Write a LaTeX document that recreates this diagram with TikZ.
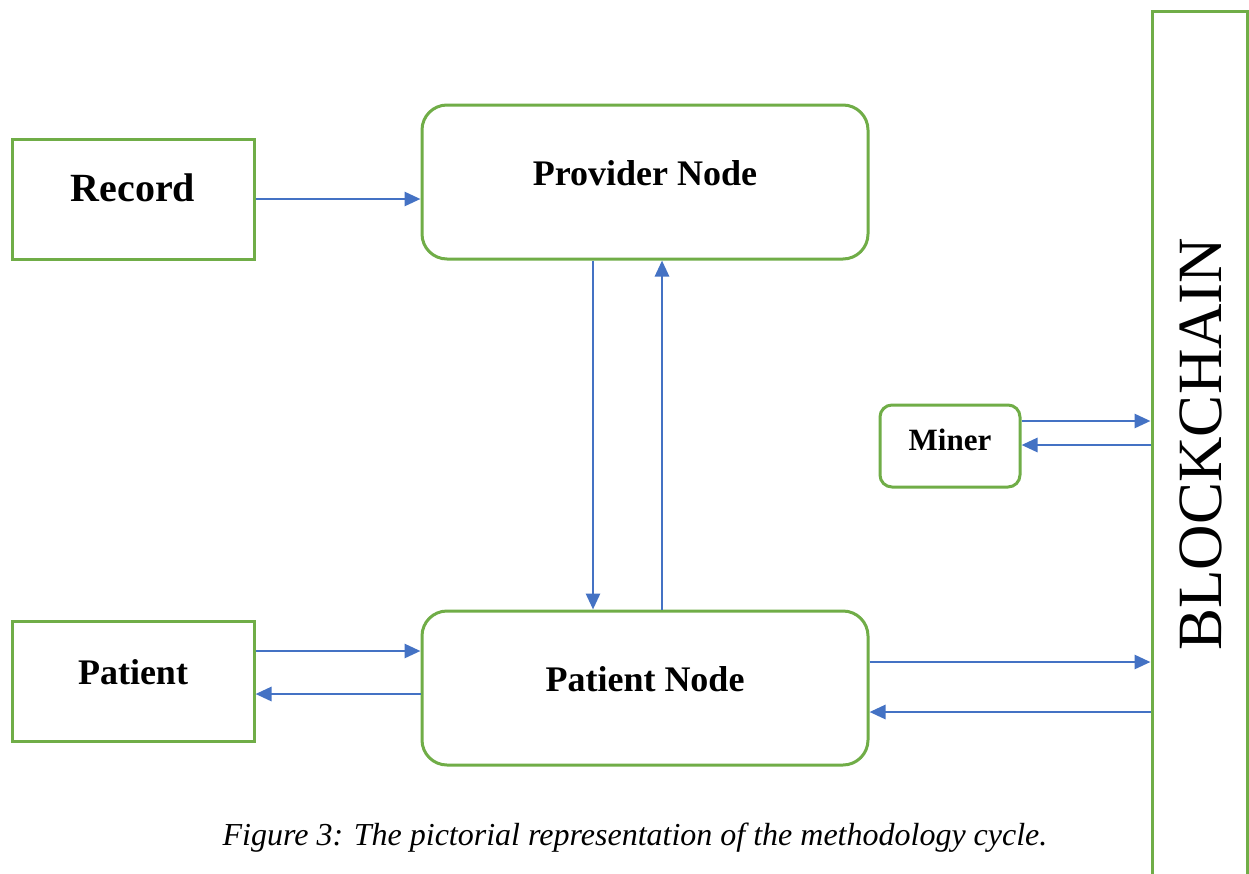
\documentclass[tikz,border=0pt]{standalone}
\usepackage{fontspec}
\setmainfont{Liberation Serif}
\usetikzlibrary{arrows.meta}
\definecolor{gr}{HTML}{70AD47}
\definecolor{bl}{HTML}{4472C4}
\begin{document}
\begin{tikzpicture}[x=1pt,y=-1pt,
  box/.style={draw=gr,line width=3pt,inner sep=0pt,fill=white},
  sq/.style={box,minimum width=242pt,minimum height=120pt},
  big/.style={box,rounded corners=25pt,minimum width=446pt,minimum height=154pt},
  lab/.style={font=\fontsize{36}{40}\selectfont\bfseries,yshift=9pt},
  arr/.style={draw=bl,line width=2.8pt,-{Triangle[length=16pt,width=14pt]}}]
\fill[white] (0,0) rectangle (1249,873);
\useasboundingbox (0,0) rectangle (1249,873);
\node[sq,label={[lab,font=\fontsize{40}{44}\selectfont\bfseries,yshift=2pt]center:Record}] (rec) at (133,199) {};
\node[big,label={[lab]center:Provider Node}] (prov) at (645,182) {};
\node[sq,label={[lab]center:Patient}] (pat) at (133,681) {};
\node[big,label={[lab]center:Patient Node}] (pnode) at (645,688) {};
\node[box,rounded corners=12pt,minimum width=140pt,minimum height=82pt,
  label={[font=\fontsize{31}{34}\selectfont\bfseries,yshift=6pt]center:Miner}] (miner) at (950,446) {};
\node[box,minimum width=95pt,minimum height=880pt] (bc) at (1199.5,451) {};
\node[rotate=90,font=\fontsize{63}{66}\selectfont,inner sep=0pt] (bct) at (1201,444) {BLOCKCHAIN};
\node[font=\fontsize{32}{36}\selectfont\itshape,inner sep=0pt] (cap) at (635,838) {Figure 3: The pictorial representation of the methodology cycle.};
\draw[arr] (rec.east) -- (rec.east -| prov.west);
\draw[arr] ([xshift=-52pt]prov.south) -- ([xshift=-52pt]pnode.north);
\draw[arr] ([xshift=17pt]pnode.north) -- ([xshift=17pt]prov.south);
\draw[arr] ([yshift=30pt]pat.east) -- ([yshift=30pt]pat.east -| pnode.west);
\draw[arr] ([yshift=-13pt]pat.east -| pnode.west) -- ([yshift=-13pt]pat.east);
\draw[arr] ([yshift=25pt]miner.east) -- ([yshift=25pt]miner.east -| bc.west);
\draw[arr] ([yshift=1pt]miner.east -| bc.west) -- ([yshift=1pt]miner.east);
\draw[arr] ([yshift=26pt]pnode.east) -- ([yshift=26pt]pnode.east -| bc.west);
\draw[arr] ([yshift=-24pt]pnode.east -| bc.west) -- ([yshift=-24pt]pnode.east);
\end{tikzpicture}
\end{document}
